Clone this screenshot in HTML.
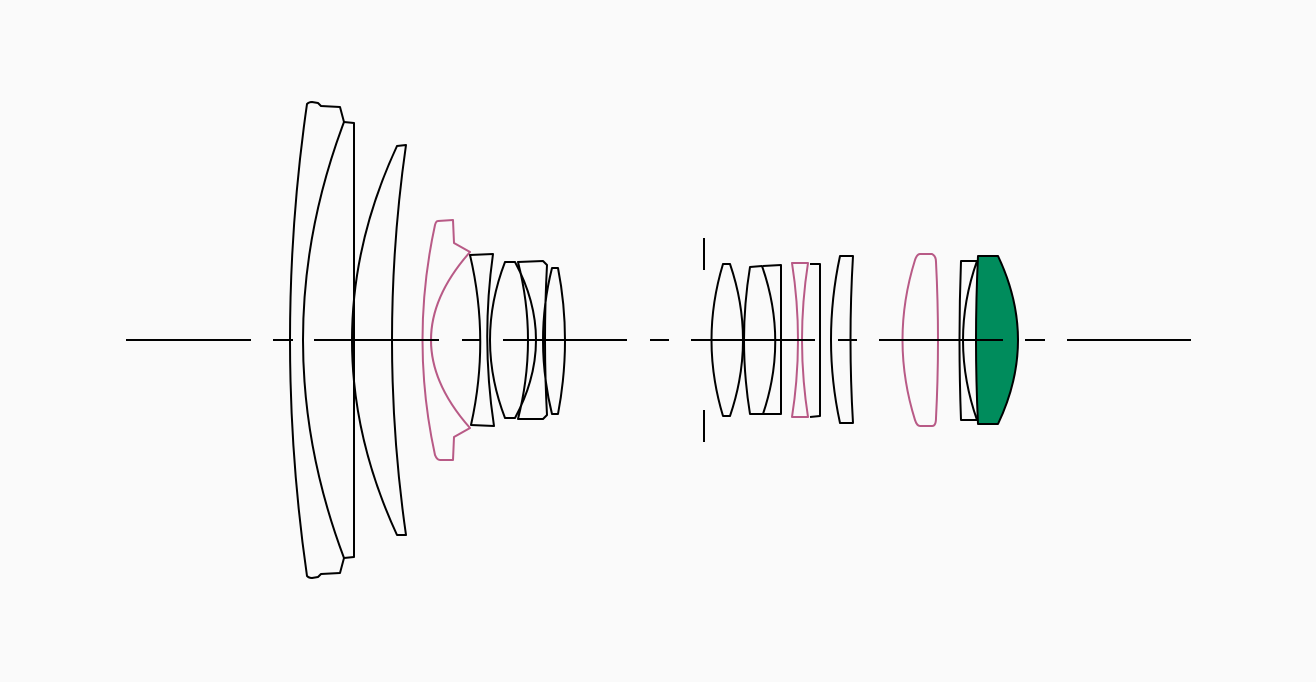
<!DOCTYPE html>
<html><head><meta charset="utf-8"><style>html,body{margin:0;padding:0;background:#fafafa}svg{display:block}</style></head>
<body>
<svg width="1316" height="682" viewBox="0 0 1316 682" xmlns="http://www.w3.org/2000/svg">
<rect width="1316" height="682" fill="#fafafa"/>
<g fill="none" stroke="#000" stroke-width="2" stroke-linejoin="round">
<!-- lens 1 -->
<path d="M307,104 Q309,102 312,102 L318,103 L321,106 L340,107 L344,122 Q262,340 344,558 L340,573 L321,574 L318,577 L312,578 Q309,578 307,576 Q273,340 307,104 Z"/>
<!-- lens 2 -->
<path d="M344,122 L354,123 L354,557 L344,558"/>
<!-- lens 3 -->
<path d="M397,146 L406,145 Q378,340 406,535 L397,535 Q307,340 397,146 Z"/>
<!-- lens 5 -->
<path d="M470,255 L493,254 Q481,340 494,426 L471,425 Q490,340 470,255 Z"/>
<!-- lens 6 -->
<path d="M505,262 L515,262 Q557,340 515,418 L505,418 Q475,340 505,262 Z"/>
<!-- lens 7 -->
<path d="M518,262 L543,261 L547,265 Q543,340 547,415 L543,419 L518,419 Q538,340 518,262 Z"/>
<!-- lens 8 -->
<path d="M552,268 L558,268 Q572,340 558,414 L552,414 Q534,340 552,268 Z"/>
<!-- stop -->
<path d="M704,238 L704,270 M704,410 L704,442"/>
<!-- A -->
<path d="M723,264 L730,264 Q756,340 730,416 L723,416 Q700,340 723,264 Z"/>
<!-- B -->
<path d="M750,267 L762,266 Q788,340 763,414 L750,414 Q738,340 750,267 Z"/>
<!-- C -->
<path d="M763,266 L781,265 L781,414 L763,414"/>
<!-- E -->
<path d="M810,264 L820,264 L820,416 L810,417"/>
<!-- F -->
<path d="M840,256 L853,256 Q848,340 853,423 L840,423 Q822,340 840,256 Z"/>
<!-- H -->
<path d="M961,261 L977,261 Q949,340 977,420 L961,420 Q958,340 961,261 Z"/>
</g>
<g fill="none" stroke="#b85a86" stroke-width="2" stroke-linejoin="round">
<path d="M438,221 L453,220 L454,243 L470,252 Q392,340 470,428 L454,437 L453,460 L440,460 Q437,460 435,455 Q410,340 435,225 Q436,221 438,221 Z"/>
<path d="M792,263 L808,263 Q796,340 808,417 L792,417 Q804,340 792,263 Z"/>
<path d="M920,254 L932,254 Q936,256 936,262 Q940,340 936,418 Q936,426 932,426 L920,426 Q917,426 915,420 Q890,340 915,260 Q917,254 920,254 Z"/>
</g>
<path d="M978,256 L998,256 Q1038,340 998,424 L978,424 Q974,340 978,256 Z" fill="#008c5c" stroke="#000" stroke-width="2" stroke-linejoin="round"/>
<g stroke="#000" stroke-width="2">
<path d="M126,340 H251 M273,340 H293 M314,340 H439 M462,340 H481 M503,340 H627 M650,340 H669 M691,340 H815 M838,340 H857 M879,340 H1003 M1025,340 H1045 M1067,340 H1191"/>
</g>
</svg>
</body></html>
